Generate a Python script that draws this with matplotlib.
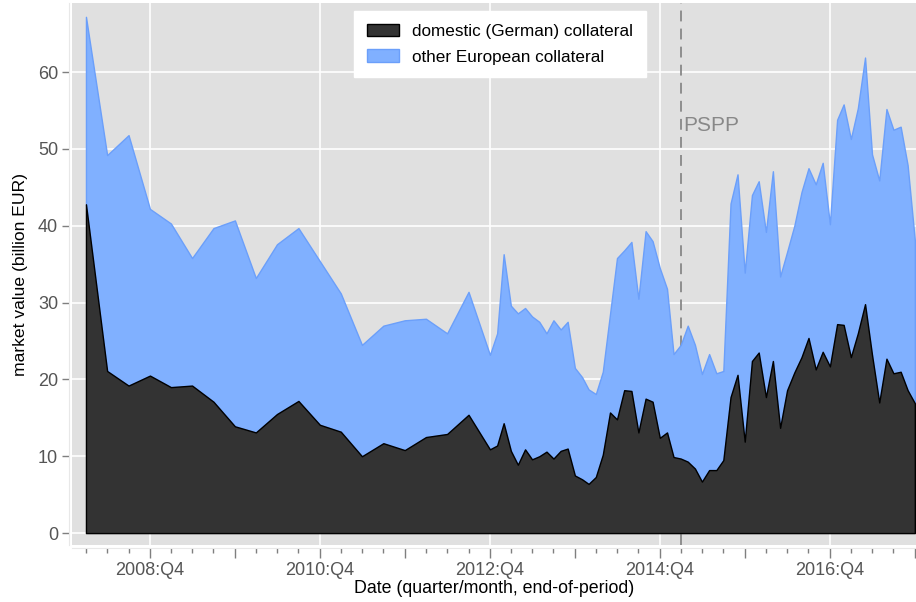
import numpy as np
import pandas as pd
import matplotlib
matplotlib.use("Agg")
import matplotlib.pyplot as plt

plt.rcParams["font.family"] = ["Liberation Sans", "DejaVu Sans"]

# quarterly observations 2008:Q1 - 2012:Q3, monthly from 2012-12 on
quarters = pd.period_range("2008Q1", "2012Q3", freq="Q")
months = pd.period_range("2012-12", "2017-12", freq="M")

domestic_q = [42.8, 21.1, 19.2, 20.5, 19.0, 19.2, 17.1, 13.9, 13.1, 15.5,
              17.2, 14.1, 13.2, 10.0, 11.7, 10.8, 12.5, 12.9, 15.4]
other_q = [24.4, 28.1, 32.6, 21.7, 21.3, 16.6, 22.6, 26.8, 20.1, 22.1,
           22.5, 21.3, 18.0, 14.5, 15.3, 16.9, 15.4, 13.1, 16.0]

domestic_m = [10.9, 11.4, 14.3, 10.7, 8.9, 10.9, 9.6, 10.0, 10.6, 9.7,
              10.7, 11.0, 7.5, 7.0, 6.4, 7.3, 10.2, 15.7, 14.8, 18.6,
              18.5, 13.1, 17.5, 17.1, 12.4, 13.1, 9.9, 9.7, 9.3, 8.4,
              6.7, 8.2, 8.2, 9.5, 17.7, 20.6, 11.9, 22.4, 23.5, 17.7,
              22.4, 13.7, 18.6, 20.9, 22.9, 25.4, 21.3, 23.6, 21.7, 27.2,
              27.1, 22.9, 26.0, 29.8, 23.2, 17.0, 22.7, 20.8, 21.0, 18.6,
              16.9]
other_m = [12.3, 14.6, 22.0, 18.9, 19.7, 18.4, 18.6, 17.5, 15.4, 18.0,
           15.8, 16.5, 14.0, 13.3, 12.3, 10.8, 10.8, 12.8, 21.0, 18.2,
           19.4, 17.4, 21.8, 20.9, 22.1, 18.7, 13.4, 14.8, 17.7, 16.1,
           14.0, 15.1, 12.6, 11.6, 25.2, 26.1, 22.0, 21.6, 22.3, 21.5,
           24.7, 19.7, 18.0, 19.1, 21.5, 22.1, 24.1, 24.6, 18.5, 26.6,
           28.7, 28.4, 29.3, 32.1, 26.1, 28.9, 32.5, 31.7, 31.9, 29.3,
           21.2]

labels = ["domestic (German) collateral", "other European collateral"]
pspp_date = "2015-03-31"
label_years = [2008, 2010, 2012, 2014, 2016]

def period_end(p):
    return p.to_timestamp(how="end").normalize()

dates = list(period_end(quarters)) + list(period_end(months))
domestic = np.array(domestic_q + domestic_m)
other = np.array(other_q + other_m)

fig = plt.figure(figsize=(9.16, 6.02), dpi=100)
ax = fig.add_axes([72 / 916, 57 / 602, 1 - 72 / 916, 542 / 602])
ax.set_facecolor("#e0e0e0")

ax.set_ylim(-1.55, 69)
ax.set_xlim(pd.Timestamp("2008-01-31"), pd.Timestamp("2018-01-05"))

# grid
ax.set_yticks(range(0, 61, 10))
ax.grid(axis="y", color="white", lw=1.2, zorder=0)
for yr in label_years:
    ax.axvline(pd.Timestamp(f"{yr}-12-31"), color="white", lw=1.2, zorder=0)
ax.set_axisbelow(True)

ax.axvline(pd.Timestamp(pspp_date), color="#888888", lw=1.3, ls=(0, (6, 4)), zorder=1)
ax.text(pd.Timestamp(pspp_date) + pd.Timedelta(days=10), 53.0, "PSPP",
        color="#888888", fontsize=15, va="center", ha="left", zorder=1)

polys = ax.stackplot(dates, domestic, other, labels=labels,
                     colors=["#333333", "#80b0ff"], zorder=2)
polys[0].set_edgecolor("black"); polys[0].set_linewidth(1.0); polys[0].set_zorder(3)
polys[1].set_edgecolor("#6b9ffa"); polys[1].set_linewidth(1.0)

# x ticks: every quarter, longer at Q4, labels every two years
qticks = period_end(pd.period_range("2008Q1", "2017Q4", freq="Q"))
q4 = [d for d in qticks if d.month == 12]
ax.set_xticks(q4)
ax.set_xticklabels([f"{d.year}:Q4" if d.year in label_years else "" for d in q4])
ax.set_xticks([d for d in qticks if d.month != 12], minor=True)
ax.tick_params(axis="x", which="major", length=7, width=1, color="#7f7f7f",
               labelcolor="#555555", labelsize=13, pad=3)
ax.tick_params(axis="x", which="minor", length=3.5, width=1, color="#7f7f7f")
ax.tick_params(axis="y", length=5, width=1, color="#7f7f7f",
               labelcolor="#555555", labelsize=13, pad=3)

for s in ["top", "right"]:
    ax.spines[s].set_visible(False)
for s in ["left", "bottom"]:
    ax.spines[s].set_color("#e8e8e8")
    ax.spines[s].set_position(("outward", 2))

ax.set_xlabel("Date (quarter/month, end-of-period)", fontsize=12.8, labelpad=1)
ax.set_ylabel("market value (billion EUR)", fontsize=12.6, labelpad=7)

leg = ax.legend(loc="upper center", bbox_to_anchor=(0.507, 0.985), fontsize=12.3,
                frameon=True, fancybox=False, framealpha=1, facecolor="white",
                edgecolor="white", borderaxespad=0, handlelength=1.9,
                handleheight=0.75, handletextpad=0.75, labelspacing=0.6,
                borderpad=0.75)
leg.set_zorder(5)

fig.savefig("out.png", dpi=100)
